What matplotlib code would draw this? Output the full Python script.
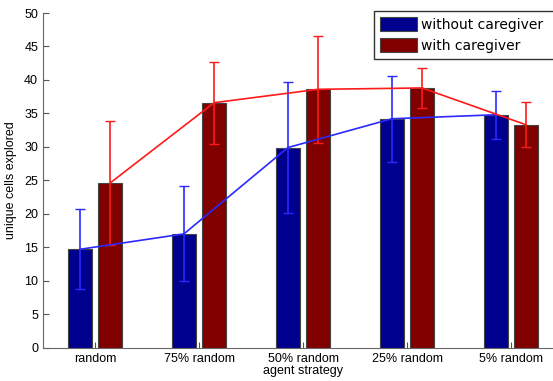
import matplotlib
matplotlib.use("Agg")
import matplotlib.pyplot as plt
import numpy as np

categories = ["random", "75% random", "50% random", "25% random", "5% random"]
without_mean = [14.7, 17.0, 29.9, 34.2, 34.8]
without_err = [6.0, 7.1, 9.8, 6.4, 3.6]
with_mean = [24.6, 36.6, 38.6, 38.8, 33.3]
with_err = [9.2, 6.1, 7.95, 3.0, 3.35]

BAR_W = 0.225
OFFSET = 0.145

fig = plt.figure(figsize=(5.53, 3.81), dpi=100)
ax = fig.add_axes([43 / 553, 33.3 / 381, 520 / 553, 334.7 / 381])

x = np.arange(1, len(categories) + 1)
xb = x - OFFSET
xr = x + OFFSET

ax.bar(xb, without_mean, BAR_W, color="#00008F", edgecolor="#444444", linewidth=0.8,
       label="without caregiver", zorder=2)
ax.bar(xr, with_mean, BAR_W, color="#800000", edgecolor="#444444", linewidth=0.8,
       label="with caregiver", zorder=2)

ax.errorbar(xb, without_mean, yerr=without_err, color="#2a2aff", lw=1.2,
            capsize=3.5, capthick=1.0, zorder=3)
ax.errorbar(xr, with_mean, yerr=with_err, color="#ff1a1a", lw=1.2,
            capsize=3.5, capthick=1.0, zorder=3)

ax.set_xlim(0.5, 5.5)
ax.set_ylim(0, 50)
ax.set_yticks(np.arange(0, 51, 5))
ax.set_xticks(x)
ax.set_xticklabels(categories)
ax.tick_params(direction="in", length=4, width=0.8, colors="#555555",
               labelcolor="black", labelsize=9)
for lbl in ax.get_xticklabels() + ax.get_yticklabels():
    lbl.set_family("Liberation Sans")

ax.spines["top"].set_visible(False)
ax.spines["right"].set_visible(False)
ax.spines["left"].set_color("#666666")
ax.spines["bottom"].set_color("#666666")

ax.set_xlabel("agent strategy", family="Liberation Sans", fontsize=9, labelpad=0)
ax.set_ylabel("unique cells explored", family="Liberation Sans", fontsize=9, labelpad=5)

# legend frame runs past the right edge of the image, as in the original
leg = fig.legend(loc="upper left",
                 bbox_to_anchor=(374 / 553, 1 - 10.7 / 381 - 0.2, 190 / 553, 0.2),
                 mode="expand",
                 prop={"family": "DejaVu Sans", "size": 10}, fancybox=False,
                 edgecolor="#333333", framealpha=1, borderpad=0.45, borderaxespad=0,
                 handlelength=2.64, handleheight=1.2, handletextpad=0.3,
                 labelspacing=0.43)
leg.get_frame().set_linewidth(1.0)

fig.savefig("out.png", dpi=100)
